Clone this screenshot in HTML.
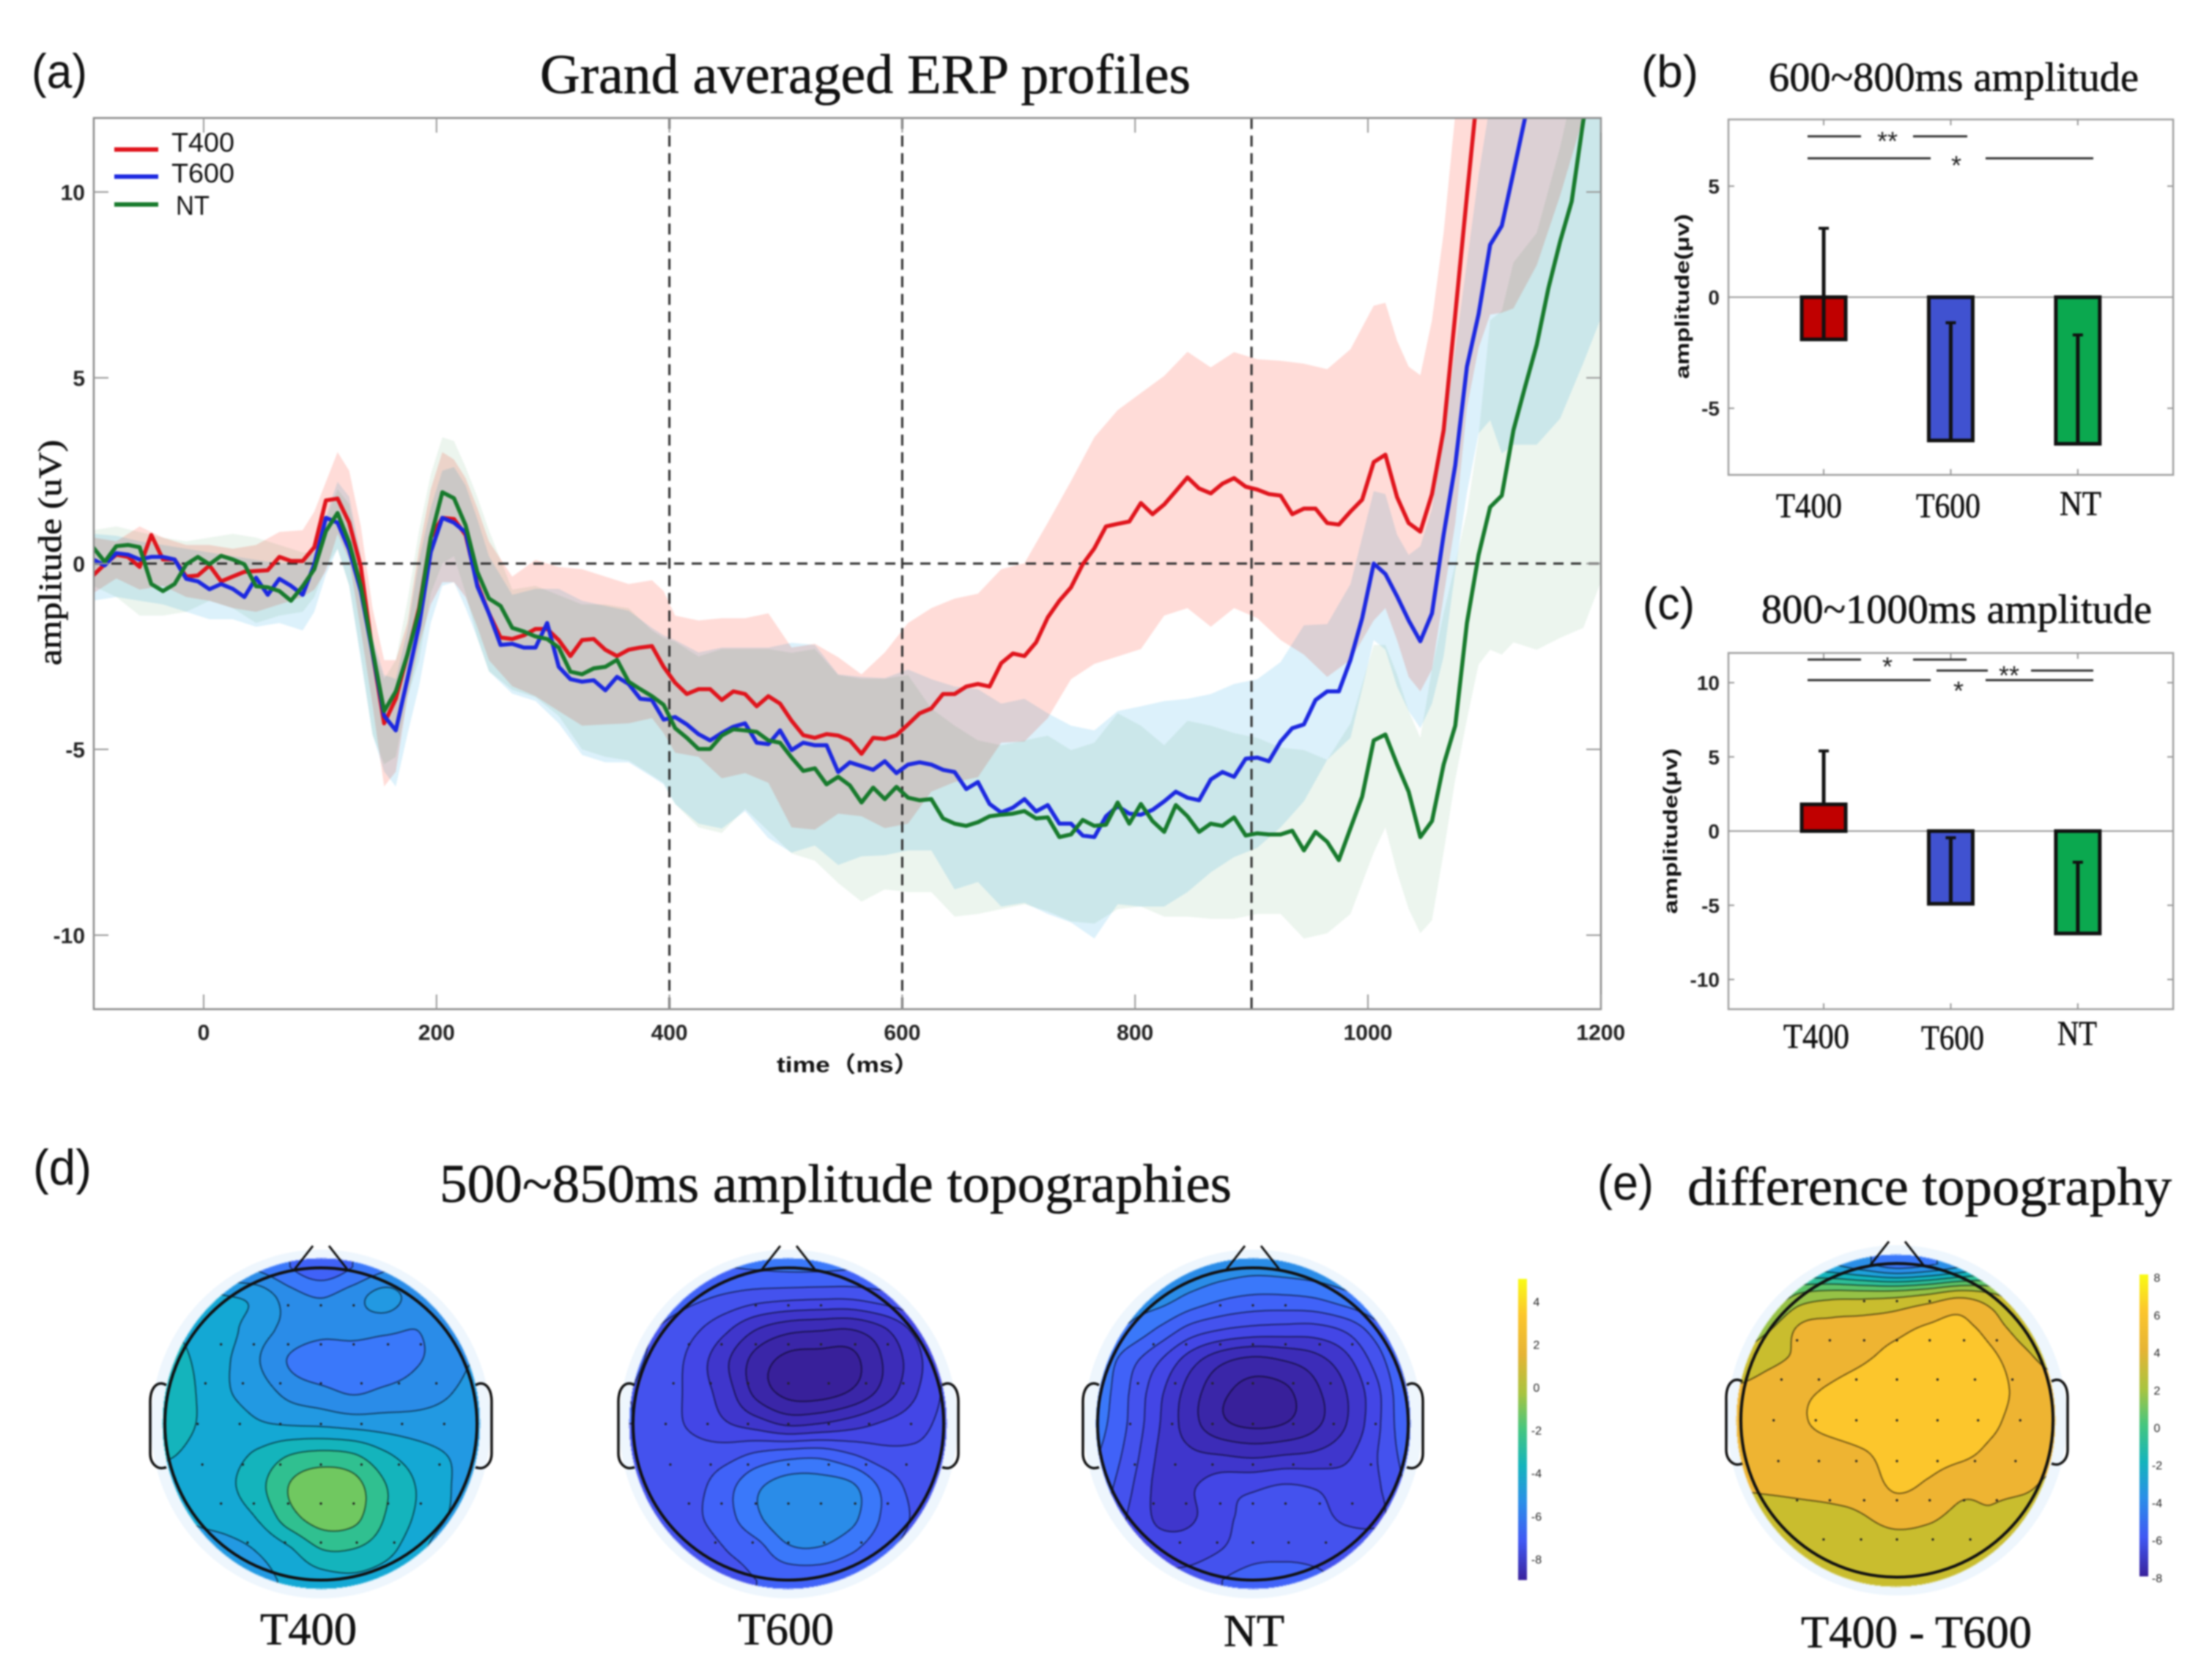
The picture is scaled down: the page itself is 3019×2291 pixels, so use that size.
<!DOCTYPE html>
<html lang="en">
<head>
<meta charset="utf-8">
<title>Grand averaged ERP profiles</title>
<style>
html,body{margin:0;padding:0;background:#fff}
#stage{position:relative;width:3019px;height:2291px;overflow:hidden;background:#fff;filter:blur(1.1px)}
svg{position:absolute;left:0;top:0}
canvas{position:absolute}
text{fill:#111}
.serif{font-family:"Liberation Serif","Noto Serif CJK SC",serif;stroke:#111;stroke-width:.6px}
.sans{font-family:"Liberation Sans","Noto Sans CJK SC",sans-serif}
.tick{font-family:"Liberation Sans",sans-serif;font-weight:700;font-size:30px;fill:#222}
.band{mix-blend-mode:multiply}
</style>
</head>
<body>
<div id="stage">
<svg id="chart" width="3019" height="2291" viewBox="0 0 3019 2291">
  <defs>
    <clipPath id="plotClip"><rect x="128" y="161" width="2057" height="1216"/></clipPath>
    <linearGradient id="parula" x1="0" y1="0" x2="0" y2="1">
      <stop offset="0" stop-color="#f9fb15"/>
      <stop offset="0.12" stop-color="#fcc62c"/>
      <stop offset="0.25" stop-color="#e6b434"/>
      <stop offset="0.38" stop-color="#a8c440"/>
      <stop offset="0.5" stop-color="#44c680"/>
      <stop offset="0.62" stop-color="#14b4bc"/>
      <stop offset="0.74" stop-color="#2a8fe8"/>
      <stop offset="0.87" stop-color="#4058f4"/>
      <stop offset="1" stop-color="#3a229c"/>
    </linearGradient>
  </defs>

  <text class="sans" x="43" y="120" font-size="66" textLength="76" lengthAdjust="spacingAndGlyphs">(a)</text>
  <text class="serif" x="737" y="127" font-size="76" textLength="888" lengthAdjust="spacingAndGlyphs">Grand averaged ERP profiles</text>
  <text class="serif" font-size="44" textLength="308" lengthAdjust="spacingAndGlyphs" transform="translate(83,908) rotate(-90)">amplitude (uV)</text>
  <text class="sans" x="1060" y="1463" font-size="30" font-weight="700" textLength="195" lengthAdjust="spacingAndGlyphs">time（ms）</text>

  <g id="erpPlot"></g>

  <g>
    <line x1="156" x2="216" y1="204" y2="204" stroke="#e0141c" stroke-width="6"/>
    <line x1="156" x2="216" y1="241" y2="241" stroke="#1c28e0" stroke-width="6"/>
    <line x1="156" x2="216" y1="279" y2="279" stroke="#177a2c" stroke-width="6"/>
    <text class="sans" x="234" y="207" font-size="37" textLength="86" lengthAdjust="spacingAndGlyphs">T400</text>
    <text class="sans" x="234" y="249" font-size="37" textLength="86" lengthAdjust="spacingAndGlyphs">T600</text>
    <text class="sans" x="240" y="293" font-size="37" textLength="46" lengthAdjust="spacingAndGlyphs">NT</text>
  </g>

  <text class="sans" x="2240" y="119" font-size="62" textLength="78" lengthAdjust="spacingAndGlyphs">(b)</text>
  <text class="serif" x="2414" y="124" font-size="56" textLength="505" lengthAdjust="spacingAndGlyphs">600~800ms amplitude</text>
  <text class="sans" font-size="27" font-weight="700" textLength="225" lengthAdjust="spacingAndGlyphs" transform="translate(2305,517) rotate(-90)">amplitude(μv)</text>
  <g id="panelB"></g>
  <text class="serif" x="2424" y="706" font-size="48" textLength="90" lengthAdjust="spacingAndGlyphs">T400</text>
  <text class="serif" x="2615" y="706" font-size="48" textLength="88" lengthAdjust="spacingAndGlyphs">T600</text>
  <text class="serif" x="2811" y="703" font-size="48" textLength="57" lengthAdjust="spacingAndGlyphs">NT</text>

  <text class="sans" x="2242" y="845" font-size="62" textLength="71" lengthAdjust="spacingAndGlyphs">(c)</text>
  <text class="serif" x="2404" y="850" font-size="56" textLength="533" lengthAdjust="spacingAndGlyphs">800~1000ms amplitude</text>
  <text class="sans" font-size="27" font-weight="700" textLength="226" lengthAdjust="spacingAndGlyphs" transform="translate(2289,1247) rotate(-90)">amplitude(μv)</text>
  <g id="panelC"></g>
  <text class="serif" x="2434" y="1430" font-size="48" textLength="90" lengthAdjust="spacingAndGlyphs">T400</text>
  <text class="serif" x="2622" y="1432" font-size="48" textLength="86" lengthAdjust="spacingAndGlyphs">T600</text>
  <text class="serif" x="2808" y="1426" font-size="48" textLength="54" lengthAdjust="spacingAndGlyphs">NT</text>

  <text class="sans" x="45" y="1616" font-size="68" textLength="80" lengthAdjust="spacingAndGlyphs">(d)</text>
  <text class="serif" x="600" y="1640" font-size="74" textLength="1081" lengthAdjust="spacingAndGlyphs">500~850ms amplitude topographies</text>
  <text class="sans" x="2180" y="1637" font-size="68" textLength="77" lengthAdjust="spacingAndGlyphs">(e)</text>
  <text class="serif" x="2303" y="1644" font-size="74" textLength="661" lengthAdjust="spacingAndGlyphs">difference topography</text>

  <text class="serif" x="355" y="2244" font-size="62" textLength="132" lengthAdjust="spacingAndGlyphs">T400</text>
  <text class="serif" x="1007" y="2244" font-size="62" textLength="131" lengthAdjust="spacingAndGlyphs">T600</text>
  <text class="serif" x="1670" y="2246" font-size="62" textLength="83" lengthAdjust="spacingAndGlyphs">NT</text>
  <text class="serif" x="2458" y="2248" font-size="62" textLength="315" lengthAdjust="spacingAndGlyphs">T400 - T600</text>

  <rect x="2072" y="1745" width="12" height="411" fill="url(#parula)"/>
  <rect x="2920" y="1739" width="12" height="412" fill="url(#parula)"/>
  <g id="colorbarTicks"></g>
  <g id="halos"></g>
</svg>

<canvas id="topoT400" width="480" height="480"></canvas>
<canvas id="topoT600" width="480" height="480"></canvas>
<canvas id="topoNT" width="480" height="480"></canvas>
<canvas id="topoDiff" width="480" height="480"></canvas>

<svg id="overlay" width="3019" height="2291" viewBox="0 0 3019 2291"></svg>
</div>

<script>
/* ---------- ERP data ---------- */
const times = [-95,-85,-75,-65,-55,-45,-35,-25,-15,-5,5,15,25,35,45,55,65,75,85,95,105,115,125,135,145,155,165,175,185,195,205,215,225,
235,245,255,265,275,285,295,305,315,325,335,345,355,365,375,385,395,405,415,425,435,445,455,465,475,485,495,505,515,525,535,545,
555,565,575,585,595,605,615,625,635,645,655,665,675,685,695,705,715,725,735,745,755,765,775,785,795,805,815,825,835,845,855,865,875,
885,895,905,915,925,935,945,955,965,975,985,995,1005,1015,1025,1035,1045,1055,1065,1075,1085,1095,
1105,1115,1125,1135,1145,1155,1165,1175,1185,1195];

const t400Mean = [-.32,-.02,.24,.18,-.09,.77,.11,.11,-.35,-.32,-.05,-.48,-.35,-.22,-.2,-.18,.18,.07,.07,.44,1.7,1.75,1.1,-.09,-2.4,-4.3,-3.64,-2.45,-1.2,.7,1.23,1.2,.77,
-.55,-1.34,-1.99,-2.03,-1.93,-1.76,-1.76,-2.06,-2.49,-2.06,-2.03,-2.32,-2.49,-2.32,-2.26,-2.22,-2.78,-3.21,-3.51,-3.38,-3.38,-3.67,-3.44,-3.51,-3.84,-3.57,-3.77,-4.23,-4.62,-4.69,-4.59,-4.63,
-4.76,-5.12,-4.69,-4.72,-4.62,-4.33,-4.03,-3.9,-3.51,-3.51,-3.31,-3.24,-3.31,-2.68,-2.42,-2.49,-2.12,-1.45,-1.0,-.64,-.02,.41,1.0,1.07,1.13,1.63,1.33,1.59,1.95,2.32,2.02,1.89,2.15,
2.3,2.07,1.99,1.87,1.83,1.33,1.48,1.48,1.09,1.05,1.4,1.72,2.73,2.93,1.79,1.09,.86,1.87,3.59,6.71,9.9,13,
15,17,19,20,21,22,23,24,25,26];

const t600Mean = [.11,-.05,.28,.24,.11,.18,.18,.11,-.41,-.48,-.69,-.55,-.68,-.9,-.38,-.84,-.41,-.6,-.84,-.02,1.23,1.1,.37,-.74,-2.39,-4.1,-4.49,-3.1,-1.66,.31,1.23,1.1,.84,
-.61,-1.34,-2.19,-2.16,-2.26,-2.26,-1.6,-2.78,-3.11,-3.18,-3.14,-3.41,-3.05,-3.24,-3.64,-3.67,-4.2,-4.13,-4.33,-4.59,-4.76,-4.56,-4.39,-4.3,-4.82,-4.86,-4.49,-5.02,-4.82,-4.89,-4.89,-5.61,
-5.35,-5.45,-5.55,-5.32,-5.64,-5.41,-5.35,-5.41,-5.55,-5.61,-6.07,-5.88,-6.47,-6.7,-6.57,-6.34,-6.67,-6.5,-7,-7,-7.32,-7.36,-6.8,-6.53,-6.73,-6.76,-6.63,-6.4,-6.14,-6.3,-6.37,-5.81,-5.61,
-5.74,-5.25,-5.22,-5.32,-4.79,-4.43,-4.33,-3.67,-3.44,-3.44,-2.59,-1.47,0,-.28,-.88,-1.53,-2.09,-1.34,.78,2.65,5.3,6.71,
8.58,9.09,10.53,12,14,15.5,17,18.5,20,21];

const ntMean = [.44,.05,.47,.5,.44,-.55,-.74,-.55,-.02,.18,-.02,.21,.11,-.02,-.61,-.64,-.74,-1.0,-.61,-.15,.87,1.36,.57,-.61,-2.32,-3.97,-3.44,-2.45,-1.27,.7,1.92,1.76,1.03,
-.22,-.94,-1.14,-1.73,-1.83,-1.96,-2.03,-2.26,-2.91,-2.98,-2.82,-2.78,-2.59,-3.18,-3.38,-3.57,-3.8,-4.43,-4.69,-4.99,-4.99,-4.63,-4.46,-4.49,-4.53,-4.76,-4.82,-5.22,-5.58,-5.51,-5.94,-5.74,
-5.97,-6.43,-6.03,-6.34,-6.01,-6.3,-6.37,-6.34,-6.86,-7,-7.06,-6.96,-6.8,-6.76,-6.73,-6.66,-6.86,-6.83,-7.36,-7.29,-6.9,-7.06,-7.03,-6.43,-7,-6.47,-6.93,-7.22,-6.5,-6.8,-7.22,-7,-7.06,
-6.83,-7.32,-7.26,-7.29,-7.29,-7.19,-7.72,-7.22,-7.49,-7.98,-7.12,-6.27,-4.76,-4.6,-5.4,-6.14,-7.36,-6.93,-5.41,-4.36,-1.6,.23,
1.52,1.83,3.59,4.76,5.89,7.41,8.66,9.75,11.93,13.2];

const bandTimes = [-95,-75,-55,-35,-15,5,25,45,65,85,
95,105,115,125,135,145,155,165,175,185,195,205,215,225,235,245,
265,285,305,325,345,365,385,395,
405,425,445,465,485,505,525,545,565,585,
605,625,645,665,685,705,725,745,765,785,
805,825,845,865,885,905,925,945,965,985,
1005,1015,1025,1035,1045,1055,1065,1075,1085,1095,1105,1115,1125,
1145,1165,1185,1200];

const t400Upper = [.7,.6,1.0,.7,.5,.5,.4,.5,.85,.9,
1.4,2.2,3.0,2.5,1.0,-1.2,-2.6,-2.6,-1.6,.4,2.0,3.0,2.8,2.3,1.5,.6,
-.35,.1,-.09,-.15,-.35,-.55,-.45,-.74,
-1.4,-1.53,-1.47,-1.47,-1.34,-2.26,-2.16,-2.52,-2.98,-2.39,
-1.6,-1.2,-.94,-.81,-.15,.01,1.1,2.22,3.4,4.13,
4.59,5.05,5.7,5.28,5.69,5.5,5.46,5.38,5.23,5.77,
6.94,7.02,6.0,5.3,5.07,6.55,8.9,12.1,14,16,18,19,20,
22,24,26,28];
const t400Lower = [-.8,-.4,-.7,-.6,-.9,-1.0,-1.2,-1.3,-1.1,-.9,
-.7,-.2,.8,.1,-1.8,-3.8,-6.0,-5.6,-3.6,-2.2,-1.1,-.5,-.5,-.9,-1.7,-2.6,
-3.3,-3.57,-3.97,-4.36,-4.33,-4.3,-4.16,-4.56,
-5.09,-5.2,-5.78,-5.64,-5.9,-7.1,-7.16,-6.73,-6.8,-7.12,
-7.0,-6.14,-5.88,-5.75,-4.82,-4.79,-4.16,-3.11,-2.7,-2.5,
-2.3,-1.4,-1.2,-1.7,-1.2,-1.47,-2.06,-2.45,-3.05,-2.59,
-1.53,-1.2,-2.06,-3.05,-3.44,-2.85,-.88,1.09,4.2,5.8,6.7,6.75,6.87,
8.03,9.9,12,14];
const t600Upper = [.8,.75,.6,.5,.4,.3,.2,.1,.0,.1,
.3,1.3,2.2,1.8,.2,-2,-3,-3.1,-1.8,.1,1.5,2.5,2.6,2.1,1.2,.2,
-.84,-.68,-.68,-1,-1.14,-1.27,-1.73,-1.93,
-2.06,-2.39,-2.26,-2.26,-2.26,-2.13,-2.19,-2.98,-3.05,-3.08,
-2.85,-3.11,-3.31,-3.38,-3.77,-3.64,-4.03,-4.36,-4.49,-3.97,
-3.84,-3.7,-3.64,-3.51,-3.24,-3.11,-2.65,-1.66,-1.63,-.55,
1.95,1.87,.78,.23,.47,1.48,3.43,5.77,8.11,10.45,12.4,14,15,
17,19,21,23];
const t600Lower = [-1.0,-.9,-1.0,-1.1,-1.3,-1.5,-1.5,-1.7,-1.6,-1.8,
-1.3,-.3,.4,-.6,-2.6,-4.6,-5.6,-6.0,-4.6,-3.3,-1.6,-.6,-.5,-1.2,-2,-2.9,
-3.5,-3.7,-4.3,-5.15,-5.35,-5.35,-5.74,-5.94,
-6.47,-7,-7.13,-6.66,-7.39,-7.78,-7.59,-8.11,-7.88,-7.85,
-7.72,-7.72,-8.77,-8.57,-9.23,-9.13,-9.43,-9.66,-10.09,-9.17,
-9.23,-9.23,-8.84,-8.31,-7.9,-7.65,-7.1,-6.4,-5.28,-4.69,
-2.06,-2.32,-3.31,-3.97,-4.43,-3.77,-2.5,-.2,1.9,3.5,3.86,2.96,3.2,
3.2,3.9,5.4,6.6];
const ntUpper = [.9,1.0,.85,.7,.6,.7,.8,.7,.5,.3,
.3,1.2,2.0,1.6,.0,-2.2,-3.1,-2.6,-1,.9,2.4,3.4,3.3,2.6,1.8,.9,
-.7,-.6,-.85,-1.1,-1.1,-1.2,-1.8,-2,
-2.1,-2.5,-2.3,-2.3,-2.3,-2.4,-2.3,-3.0,-3.1,-3.1,
-3.0,-3.9,-4.36,-4.76,-4.89,-4.76,-4.63,-5.02,-4.82,-4.03,
-4.36,-4.89,-4.23,-4.36,-4.56,-4.69,-4.95,-5.02,-5.28,-4.3,
-2.19,-2.19,-2.98,-3.97,-4.69,-2.85,-1.34,0,1.4,3.43,6.55,6.8,8.1,
8.9,11.2,14,16];
const ntLower = [-.6,-.9,-1.4,-1.4,-1.3,-1.0,-1.2,-1.6,-1.4,-1.3,
-.9,-.1,.4,-.6,-2.5,-4.6,-5.4,-5.2,-3.6,-2.6,-.8,.0,.2,-.8,-2,-2.9,
-3.4,-3.6,-4.1,-5,-5.2,-5.3,-5.7,-5.9,
-6.47,-7.1,-7.25,-6.6,-7.2,-7.8,-8,-8.6,-9.1,-8.77,
-8.84,-8.84,-9.5,-9.43,-9.3,-9.17,-9.36,-9.63,-9.69,-9.3,
-9.23,-9.5,-9.5,-9.56,-9.56,-9.43,-9.43,-10.09,-9.95,-9.43,
-7.78,-7.1,-8.31,-9.3,-9.95,-9.6,-7.78,-5.81,-4.2,-2.72,-2.32,-2.45,-2.12,
-2.32,-2,-1.73,-.5];

const erpXTicks = [0,200,400,600,800,1000,1200];
const erpYTicks = [-10,-5,0,5,10];
const erpMarkers = [400,600,900];

/* ---------- bar panel data ---------- */
const barCategories = ['T400','T600','NT'];
const panelBMeans = [-1.9,-6.45,-6.6];
const panelBErrorTops = [3.1,-1.15,-1.7];
const panelBTicks = [-5,0,5];
const panelCMeans = [1.8,-4.9,-6.9];
const panelCErrorTops = [5.4,-0.45,-2.1];
const panelCTicks = [-10,-5,0,5,10];

/* ---------- colorbar ticks ---------- */
const colorbarATicks = [4,2,0,-2,-4,-6,-8];
const colorbarBTicks = [8,6,4,2,0,-2,-4,-6,-8];

/* ---------- topography node values, 11x11 rows top to bottom ---------- */
const gridT400 = [
[-6,-6,-6,-6.2,-7.0,-7.7,-7.0,-6.2,-5.8,-5.6,-5.5],
[-4,-3.7,-3.9,-4.3,-5.5,-6.0,-5.4,-4.6,-5.4,-5.6,-5.6],
[-3,-3.3,-3.7,-4.6,-5.3,-5.7,-5.6,-5.8,-6.0,-5.6,-5.5],
[-2.6,-3.1,-3.9,-4.95,-6.1,-6.7,-6.7,-6.6,-6.1,-5.6,-4.9],
[-2.5,-3,-3.9,-4.5,-5.3,-5.7,-6.1,-5.8,-5.5,-5.1,-4.6],
[-2.6,-3.0,-3.5,-3.9,-4.1,-4.2,-4.4,-4.5,-4.6,-4.6,-4.5],
[-2.9,-3.2,-3.3,-2.8,-2.0,-1.7,-1.9,-2.8,-3.5,-4,-4.3],
[-3.5,-3.5,-3.2,-2.3,-.95,-.3,-.6,-1.9,-3,-3.9,-4.4],
[-3.9,-3.9,-3.6,-2.9,-1.4,-.55,-.7,-2.0,-3.1,-4,-4.6],
[-4.5,-4.3,-4.3,-3.9,-3.1,-2.0,-2.0,-2.6,-3.6,-4.6,-4.7],
[-4.8,-4.8,-4.6,-4.3,-3.8,-3.4,-3.2,-3.5,-4.2,-4.7,-4.8]];
const gridT600 = [
[-7,-7,-7,-7,-6.9,-6.8,-6.8,-6.9,-7,-7.2,-7.5],
[-7.5,-7.5,-7.8,-8.2,-8.6,-8.8,-8.9,-8.9,-8.5,-8.1,-7.8],
[-7.8,-8.1,-8.8,-9.8,-11,-11.7,-11.9,-12,-11.2,-9.8,-8.5],
[-7.9,-8.3,-9.4,-10.8,-12.4,-13.3,-13.4,-13.3,-12,-10.5,-8.9],
[-8,-8.4,-9.4,-10.5,-12.3,-13.3,-13.4,-12.9,-11.7,-10.2,-8.9],
[-8,-8.6,-9.2,-9.9,-10.5,-11.2,-11,-10.5,-9.9,-9.4,-8.8],
[-8.2,-8.5,-8.6,-8.4,-7.8,-7.4,-7.3,-7.9,-8.6,-8.8,-8.7],
[-8.4,-8.5,-8.3,-7.4,-6.2,-5.5,-5.5,-5.8,-7.2,-8.3,-8.6],
[-8.6,-8.6,-8.2,-7.4,-6.2,-5.2,-5.1,-5.7,-7.1,-8.1,-8.7],
[-8.8,-8.8,-8.6,-8,-7.4,-6.2,-6.1,-6.8,-7.7,-8.4,-8.8],
[-8.8,-8.8,-8.7,-8.4,-8,-7.8,-7.8,-8.1,-8.5,-8.8,-8.9]];
const gridNT = [
[-5,-5,-5,-5.2,-5.5,-5.7,-5.6,-5.4,-5.2,-5,-5],
[-5.4,-5.5,-5.6,-6.3,-6.9,-7.2,-7.2,-7,-6.4,-5.8,-5.5],
[-5.8,-6.2,-7.2,-8.4,-9.0,-9.3,-9.4,-9.4,-8.8,-7.4,-6],
[-6.3,-7.6,-9,-10.6,-11.8,-12.3,-12.0,-11.4,-10.3,-8.5,-6.6],
[-6.5,-8,-9.8,-11.5,-12.8,-13.3,-13.2,-12.2,-11,-9.2,-7],
[-6.7,-8.1,-10,-11.6,-12.8,-13.2,-13,-12.2,-11,-9.2,-7.2],
[-7,-8.4,-10.2,-10.8,-11,-11.2,-11,-10.8,-10.2,-9,-7.6],
[-7.4,-8.8,-10.3,-10.1,-9.4,-9.2,-8.9,-9.1,-9.5,-9.1,-7.9],
[-8,-9.1,-10.2,-10.1,-9.3,-8.6,-8.3,-8.6,-9.2,-9.2,-8.2],
[-8.5,-9.2,-9.5,-9.5,-9,-8.4,-8.2,-8.2,-8.3,-8.4,-8.4],
[-8.6,-8.7,-8.8,-8.6,-8,-7.6,-7.7,-7.9,-8.1,-8.3,-8.5]];
const gridDiff = [
[0,0,-.5,-1,-1.8,-2.6,-2.2,-1.4,-.3,0,1],
[2,2,3.2,3.6,3.6,3.7,4.1,4.7,4.2,3.2,1.8],
[3.2,3.8,5.1,5.3,5.4,5.6,6.1,6.3,5.5,4.4,3.6],
[4.2,4.7,5.2,5.6,5.9,6.3,6.6,6.6,6.2,5.3,4.6],
[5.1,5.4,5.8,6.1,6.4,6.7,6.8,6.7,6.4,5.7,5.3],
[5.3,5.5,5.9,6.3,6.6,6.7,6.7,6.6,6.2,5.6,5.3],
[5.3,5.4,5.6,5.7,5.95,6.4,6.5,6.3,5.8,5.5,5.3],
[5.1,5.2,5.3,5.4,5.5,6.2,5.9,5.3,5.2,5.2,4.8],
[4.6,4.6,4.7,4.8,5.0,5.4,5.2,4.85,4.9,4.6,4.4],
[4.3,4.3,4.4,4.5,4.5,4.6,4.6,4.5,4.4,4.2,4],
[4.1,4.1,4.2,4.2,4.3,4.3,4.3,4.3,4.1,3.7,3.5]];

const amplitudeBandColors = {'-14':'#38209a','-13':'#3a26a8','-12':'#3c2cb8','-11':'#3f36cc','-10':'#4346e6','-9':'#4452ee','-8':'#4062f8','-7':'#3a78fa','-6':'#2a8ce8','-5':'#2299e2','-4':'#14a8d4','-3':'#14b4bc','-2':'#30c090','-1':'#70c860'};
const differenceBandColors = {'-3':'#3a78fa','-2':'#2a8fe8','-1':'#1ea2dc','0':'#14b4bc','1':'#2ebf98','2':'#5cc468','3':'#96c246','4':'#c9bd2e','5':'#eeb432','6':'#fcc62c'};

const electrodeRows = [-.76,-.51,-.26,0,.26,.51,.76];
const electrodeCols = [[-.21,0,.21],[-.64,-.43,-.21,0,.21,.43,.64],[-.74,-.5,-.26,0,.26,.5,.74],[-.79,-.52,-.26,0,.26,.52,.79],[-.76,-.5,-.26,0,.26,.5,.76],[-.64,-.43,-.21,0,.21,.43,.64],[-.47,-.23,0,.23,.47]];

/* ---------- helpers ---------- */
const NS = 'http://www.w3.org/2000/svg';
function svgEl(tag, attrs, parent){
  const el = document.createElementNS(NS, tag);
  for (const k in attrs) el.setAttribute(k, attrs[k]);
  parent.appendChild(el);
  return el;
}
const xA = t => 278 + t * 1.589;
const yA = v => 769 - v * 50.7;

/* ---------- ERP plot ---------- */
const erp = document.getElementById('erpPlot');
const clipped = svgEl('g', {'clip-path':'url(#plotClip)'}, erp);



function bandPath(up, lo){
  let d = '';
  bandTimes.forEach((t,i)=>{ d += (i?'L':'M') + xA(t).toFixed(1) + ' ' + yA(up[i]).toFixed(1); });
  for (let i = bandTimes.length-1; i >= 0; i--) d += 'L' + xA(bandTimes[i]).toFixed(1) + ' ' + yA(lo[i]).toFixed(1);
  return d + 'Z';
}
const bandRed = svgEl('path', {d:bandPath(t400Upper,t400Lower), fill:'#ffdcd8', class:'band'}, clipped);


const bandBlue = svgEl('path', {d:bandPath(t600Upper,t600Lower), fill:'#dcf1fb', class:'band'}, clipped);


const bandGreen = svgEl('path', {d:bandPath(ntUpper,ntLower), fill:'#ecf5ee', class:'band'}, clipped);



erpMarkers.forEach(t=>{
  const l = svgEl('line', {x1:xA(t), x2:xA(t), y1:161, y2:1377, stroke:'#2c2c2c', 'stroke-width':3, 'stroke-dasharray':'15 9'}, clipped);
  
  
});
const zeroLine = svgEl('line', {x1:128, x2:2185, y1:yA(0), y2:yA(0), stroke:'#2c2c2c', 'stroke-width':3, 'stroke-dasharray':'14 10'}, clipped);



function linePath(vals){
  return times.map((t,i)=>(i?'L':'M') + xA(t).toFixed(1) + ' ' + yA(vals[i]).toFixed(1)).join('');
}
const lineRed = svgEl('path', {d:linePath(t400Mean), fill:'none', stroke:'#e0141c', 'stroke-width':5.5, 'stroke-linejoin':'round'}, clipped);


const lineBlue = svgEl('path', {d:linePath(t600Mean), fill:'none', stroke:'#1c28e0', 'stroke-width':5.5, 'stroke-linejoin':'round'}, clipped);


const lineGreen = svgEl('path', {d:linePath(ntMean), fill:'none', stroke:'#177a2c', 'stroke-width':5.5, 'stroke-linejoin':'round'}, clipped);



const frame = svgEl('rect', {x:128, y:161, width:2057, height:1216, fill:'none', stroke:'#8a8a8a', 'stroke-width':2.5}, erp);



erpXTicks.forEach(t=>{
  const x = xA(t);
  const a = svgEl('line', {x1:x, x2:x, y1:1377, y2:1357, stroke:'#999', 'stroke-width':2}, erp);
  
  
  const b = svgEl('line', {x1:x, x2:x, y1:161, y2:181, stroke:'#999', 'stroke-width':2}, erp);
  
  
  const lab = svgEl('text', {x:x, y:1419, 'text-anchor':'middle', class:'tick'}, erp);
  lab.textContent = t;
  
  
});
erpYTicks.forEach(v=>{
  const y = yA(v);
  const a = svgEl('line', {x1:128, x2:148, y1:y, y2:y, stroke:'#999', 'stroke-width':2}, erp);
  
  
  const b = svgEl('line', {x1:2185, x2:2165, y1:y, y2:y, stroke:'#999', 'stroke-width':2}, erp);
  
  
  const lab = svgEl('text', {x:116, y:y+11, 'text-anchor':'end', class:'tick'}, erp);
  lab.textContent = v;
  
  
});

/* ---------- bar panels ---------- */
const barFills = ['#c00000','#4052d0','#0ba84f'];
function drawBars(group, top, bottom, yMax, means, errs, ticks){
  const unit = (bottom - top) / (2 * yMax);
  const yB = v => (top + bottom) / 2 - v * unit;
  const xB = i => 2359 + (i + 1 - 0.25) * 173.4;
  const box = svgEl('rect', {x:2359, y:top, width:607, height:bottom-top, fill:'none', stroke:'#a0a0a0', 'stroke-width':2.5}, group);
  
  
  const zero = svgEl('line', {x1:2359, x2:2966, y1:yB(0), y2:yB(0), stroke:'#999', 'stroke-width':2}, group);
  
  
  ticks.forEach(v=>{
    const y = yB(v);
    const l = svgEl('line', {x1:2359, x2:2367, y1:y, y2:y, stroke:'#999', 'stroke-width':2}, group);
    
    
    const r = svgEl('line', {x1:2966, x2:2958, y1:y, y2:y, stroke:'#999', 'stroke-width':2}, group);
    
    
    const lab = svgEl('text', {x:2347, y:y+10, 'text-anchor':'end', 'font-family':'Liberation Sans, sans-serif', 'font-weight':700, 'font-size':28, style:'fill:#222'}, group);
    lab.textContent = v;
    
    
  });
  barCategories.forEach((c,i)=>{
    const x = xB(i);
    const t1 = svgEl('line', {x1:x, x2:x, y1:bottom, y2:bottom-8, stroke:'#999', 'stroke-width':2}, group);
    
    
    const t2 = svgEl('line', {x1:x, x2:x, y1:top, y2:top+8, stroke:'#999', 'stroke-width':2}, group);
    
    
    const y0 = yB(0), y1 = yB(means[i]);
    const bar = svgEl('rect', {x:x-30, y:Math.min(y0,y1), width:60, height:Math.abs(y1-y0), fill:barFills[i], stroke:'#111', 'stroke-width':5}, group);
    
    
    const err = svgEl('line', {x1:x, x2:x, y1:yB(errs[i]), y2:y1, stroke:'#111', 'stroke-width':5}, group);
    
    
    const cap = svgEl('line', {x1:x-7, x2:x+7, y1:yB(errs[i]), y2:yB(errs[i]), stroke:'#111', 'stroke-width':4}, group);
    
    
  });
}
const groupB = document.getElementById('panelB');
const groupC = document.getElementById('panelC');
drawBars(groupB, 163, 648, 8, panelBMeans, panelBErrorTops, panelBTicks);
drawBars(groupC, 891, 1377, 12, panelCMeans, panelCErrorTops, panelCTicks);

function sigBracket(group, y, x1, x2, x3, x4, stars, sx, sy){
  const a = svgEl('line', {x1:x1, x2:x2, y1:y, y2:y, stroke:'#333', 'stroke-width':3}, group);
  
  
  const b = svgEl('line', {x1:x3, x2:x4, y1:y, y2:y, stroke:'#333', 'stroke-width':3}, group);
  
  
  const s = svgEl('text', {x:sx, y:sy+19, 'text-anchor':'middle', 'font-family':'Liberation Sans, sans-serif', 'font-size':36, style:'fill:#222'}, group);
  s.textContent = stars;
  
  
}
sigBracket(groupB, 186, 2467, 2540, 2611, 2685, '**', 2576, 186);
sigBracket(groupB, 216, 2467, 2635, 2710, 2857, '*', 2670, 219);
sigBracket(groupC, 900, 2467, 2540, 2611, 2684, '*', 2576, 903);
sigBracket(groupC, 915, 2643, 2713, 2772, 2857, '**', 2742, 915);
sigBracket(groupC, 928, 2467, 2635, 2710, 2857, '*', 2673, 936);

/* ---------- colorbar ticks ---------- */
const cbGroup = document.getElementById('colorbarTicks');
colorbarATicks.forEach(v=>{
  const y = 1893 - v * 29.3;
  const t = svgEl('text', {x:2097, y:y+6, 'text-anchor':'middle', 'font-family':'Liberation Sans, sans-serif', 'font-size':16, style:'fill:#222'}, cbGroup);
  t.textContent = v;
  
  
});
colorbarBTicks.forEach(v=>{
  const y = 1948 - v * 25.6;
  const t = svgEl('text', {x:2944, y:y+6, 'text-anchor':'middle', 'font-family':'Liberation Sans, sans-serif', 'font-size':16, style:'fill:#222'}, cbGroup);
  t.textContent = v;
  
  
});

/* ---------- topographies ---------- */
function hexRgb(h){ return [parseInt(h.slice(1,3),16), parseInt(h.slice(3,5),16), parseInt(h.slice(5,7),16)]; }
function catmull(p0,p1,p2,p3,t){
  return 0.5*((2*p1)+(-p0+p2)*t+(2*p0-5*p1+4*p2-p3)*t*t+(-p0+3*p1-3*p2+p3)*t*t*t);
}
function sample(grid, gx, gy){
  gx = Math.max(0, Math.min(10, gx));
  gy = Math.max(0, Math.min(10, gy));
  const ix = Math.min(9, Math.floor(gx)), iy = Math.min(9, Math.floor(gy));
  const fx = gx - ix, fy = gy - iy;
  const row = j => {
    const r = grid[Math.max(0, Math.min(10, j))];
    return catmull(r[Math.max(0,ix-1)], r[ix], r[ix+1], r[Math.min(10,ix+2)], fx);
  };
  return catmull(row(iy-1), row(iy), row(iy+1), row(iy+2), fy);
}
function drawTopo(id, grid, palette, cx, cy, rx, ry, dRx, dRy){
  const cv = document.getElementById(id);
  const W = cv.width, H = cv.height;
  cv.style.left = (cx - W/2) + 'px';
  cv.style.top = (cy - H/2) + 'px';
  const ctx = cv.getContext('2d');
  const img = ctx.createImageData(W, H);
  const field = new Float32Array(W * H);
  for (let py = 0; py < H; py++) for (let px = 0; px < W; px++) {
    const u = (px - W/2) / rx, v = (py - H/2) / ry;
    field[py*W+px] = sample(grid, (u+1)/0.2, (v+1)/0.2);
  }
  const keys = Object.keys(palette).map(Number);
  const kMin = Math.min.apply(null, keys), kMax = Math.max.apply(null, keys);
  const rgb = {};
  keys.forEach(k => rgb[k] = hexRgb(palette[k]));
  for (let py = 1; py < H-1; py++) for (let px = 1; px < W-1; px++) {
    const dx = px - W/2, dy = py - H/2;
    const e = Math.sqrt(dx*dx/(dRx*dRx) + dy*dy/(dRy*dRy));
    if (e > 1.005) continue;
    const val = field[py*W+px];
    const k = Math.max(kMin, Math.min(kMax, Math.floor(val)));
    const c = rgb[k];
    const gx = (field[py*W+px+1] - field[py*W+px-1]) / 2;
    const gy = (field[(py+1)*W+px] - field[(py-1)*W+px]) / 2;
    const g = Math.hypot(gx, gy) + 1e-5;
    const dist = Math.abs(val - Math.round(val)) / g;
    const a = Math.max(0, Math.min(1, 1.1 - dist)) * 0.85;
    const o = (py*W+px)*4;
    img.data[o] = c[0]*(1-a);
    img.data[o+1] = c[1]*(1-a);
    img.data[o+2] = c[2]*(1-a);
    img.data[o+3] = e > 1 ? 120 : 255;
  }
  ctx.putImageData(img, 0, 0);
}
const overlay = document.getElementById('overlay');
const halos = document.getElementById('halos');
function drawHead(cx, cy, rx, ry){
  const halo = svgEl('ellipse', {cx:cx, cy:cy, rx:rx+19, ry:ry+25, fill:'#eef6fd'}, halos);
  
  
  const g = svgEl('g', {}, overlay);
  
  
  electrodeRows.forEach((v,ri)=>{
    electrodeCols[ri].forEach(u=>{
      const dot = svgEl('circle', {cx:cx+u*rx, cy:cy+v*ry, r:1.6, fill:'#222'}, g);
      
      
    });
  });
  const circle = svgEl('ellipse', {cx:cx, cy:cy, rx:rx, ry:ry, fill:'none', stroke:'#111', 'stroke-width':4}, g);
  
  
  const nose = svgEl('path', {d:`M${cx-36} ${cy-ry+2}L${cx-11} ${cy-ry-30}M${cx+36} ${cy-ry+2}L${cx+11} ${cy-ry-30}`, fill:'none', stroke:'#111', 'stroke-width':3}, g);
  
  
  [-1,1].forEach(s=>{
    const X = d => cx + s*d;
    const ear = svgEl('path', {d:`M${X(rx-2)} ${cy-53}C${X(rx+10)} ${cy-60} ${X(rx+20)} ${cy-50} ${X(rx+20)} ${cy-30}L${X(rx+20)} ${cy+40}C${X(rx+20)} ${cy+54} ${X(rx+10)} ${cy+64} ${X(rx-2)} ${cy+59}`, fill:'none', stroke:'#111', 'stroke-width':3.5}, g);
    
    
  });
}
drawHead(438, 1943, 213, 213);
drawHead(1076, 1943, 212, 213);
drawHead(1710, 1943, 212, 213);
drawHead(2589, 1938, 213, 214);
drawTopo('topoT400', gridT400, amplitudeBandColors, 438, 1942, 214, 214, 216, 225);
drawTopo('topoT600', gridT600, amplitudeBandColors, 1075, 1942, 214, 214, 216, 225);
drawTopo('topoNT', gridNT, amplitudeBandColors, 1710, 1942, 212, 214, 214, 225);
drawTopo('topoDiff', gridDiff, differenceBandColors, 2587, 1938, 217, 214, 217, 226);
</script>
</body>
</html>
